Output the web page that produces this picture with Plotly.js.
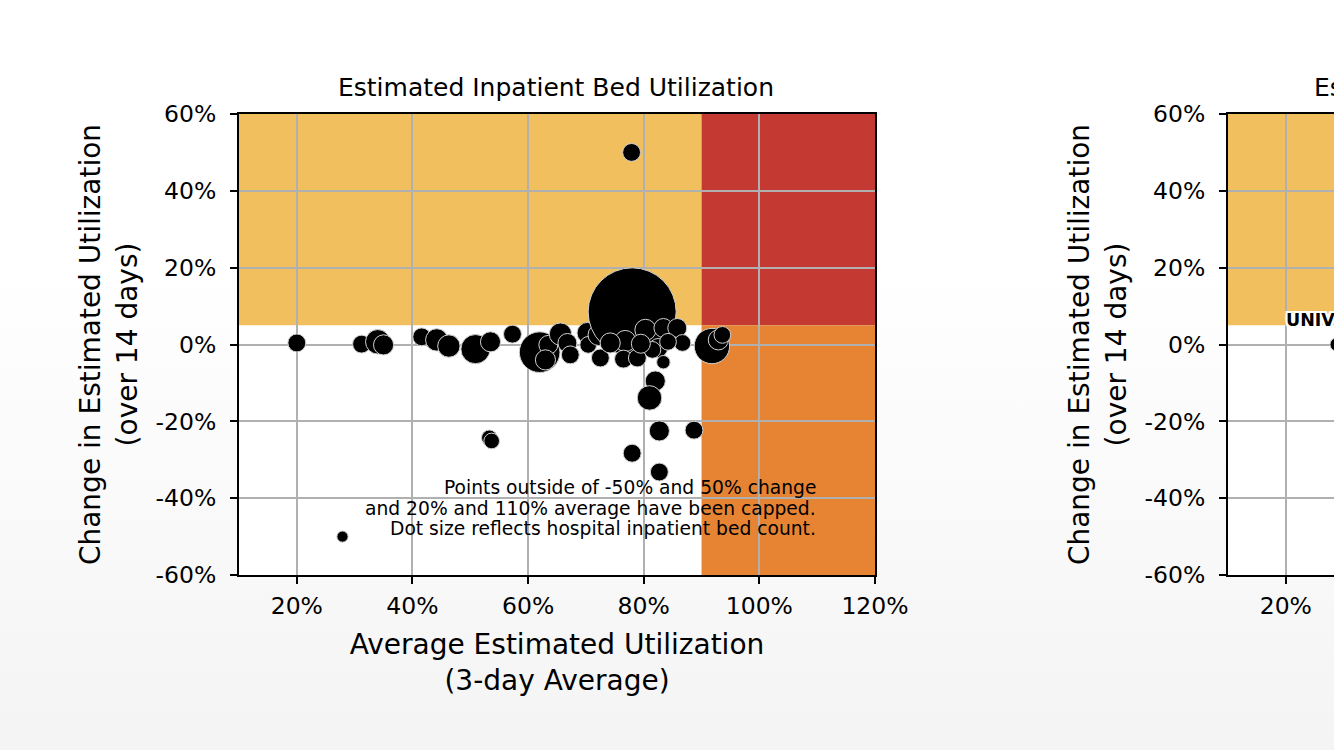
<!DOCTYPE html>
<html>
<head>
<meta charset="utf-8">
<script src="https://cdn.plot.ly/plotly-3.0.1.min.js"></script>
<style>
html, body { margin:0; padding:0; width:1334px; height:750px; overflow:hidden;
  background: linear-gradient(to bottom, #ffffff 0%, #ffffff 35%, #f4f4f4 100%); }
#chart { width:2000px; height:750px; }
</style>
</head>
<body>
<div id="chart"></div>
<script>
// ---- Data: inpatient bed utilization (left panel) ----
const hospX = [20.0, 77.9, 27.9, 31.2, 34.0, 35.0, 41.6, 44.2, 46.3, 50.9, 53.5, 57.3, 53.3, 53.7,
  62.0, 63.5, 63.0, 65.6, 66.8, 67.3, 70.3, 70.4, 72.2, 72.5, 75.1, 78.0, 76.8, 76.5, 78.9, 80.3,
  83.4, 85.8, 82.5, 83.4, 86.7, 84.2, 81.5, 82.0, 81.0, 82.7, 88.7, 78.0, 82.7, 91.8, 92.9, 93.6,
  74.2, 79.5];
const hospY = [0.4, 50, -50, 0.1, 0.7, -0.1, 2.0, 1.2, -0.4, -1.2, 0.7, 2.7, -24.3, -25.1,
  -2.0, -0.1, -4.0, 2.7, 0.4, -2.7, 3.0, -0.1, 2.5, -3.5, 6.1, 8.5, 0.9, -3.8, -3.5, 3.8,
  4.3, 4.3, -0.9, -4.6, 0.4, 0.7, -1.4, -9.5, -13.9, -22.5, -22.3, -28.3, -33.2, -0.4, 1.2, 2.5,
  0.4, 0.2];
const hospBeds = [64, 64, 25, 64, 120, 81, 64, 100, 100, 170, 81, 64, 49, 49,
  330, 72, 81, 100, 72, 64, 90, 56, 90, 64, 72, 1549, 90, 64, 64, 90,
  72, 72, 72, 36, 56, 56, 56, 81, 120, 81, 64, 64, 64, 250, 81, 56,
  81, 72];

// ---- Data: right panel (only the visible part) ----
const icuX = [28.8];
const icuY = [0.0];
const icuBeds = [36];
const icuLabels = ["UNIVERSITY HOSPITAL"];

// ---- Axis ticks ----
const xTickVals = [20, 40, 60, 80, 100, 120];
const xTickText = ["20%", "40%", "60%", "80%", "100%", "120%"];
const yTickVals = [-60, -40, -20, 0, 20, 40, 60];
const yTickText = ["-60%", "-40%", "-20%", "0%", "20%", "40%", "60%"];

// ---- Thresholds for shading ----
const xRange = [10, 120];
const yRange = [-60, 60];
const highUtil = 90;
const riseChange = 5;

const W = 2000, H = 750;
const FONT = "DejaVu Sans";
const px = v => v / W;
const py = v => 1 - v / H;

function axisX(domain, anchor) {
  return {
    domain: domain, anchor: anchor, range: xRange, tickvals: xTickVals, ticktext: xTickText,
    showgrid: true, gridcolor: "#b0b0b0", gridwidth: 2, zeroline: false,
    showline: true, linecolor: "#000", linewidth: 2, mirror: true,
    ticks: "outside", ticklen: 7, tickwidth: 2, tickcolor: "#000", ticklabelstandoff: 2,
    tickfont: {family: FONT, size: 23.5, color: "#000"}, fixedrange: true,
    title: {text: "Average Estimated Utilization<br>(3-day Average)", font: {family: FONT, size: 28, color: "#000"}, standoff: 15}
  };
}
function axisY(domain, anchor) {
  return {
    domain: domain, anchor: anchor, range: yRange, tickvals: yTickVals, ticktext: yTickText,
    showgrid: true, gridcolor: "#b0b0b0", gridwidth: 2, zeroline: false,
    showline: true, linecolor: "#000", linewidth: 2, mirror: true,
    ticks: "outside", ticklen: 7, tickwidth: 2, tickcolor: "#000", ticklabelstandoff: 9,
    tickfont: {family: FONT, size: 23.5, color: "#000"}, fixedrange: true,
    title: {text: "Change in Estimated Utilization<br>(over 14 days)", font: {family: FONT, size: 28, color: "#000"}, standoff: 10}
  };
}

const yDom = [py(575), py(114)];
const x1Dom = [px(239), px(875)];
const x2Dom = [px(1228), px(1864)];

function shading(xr, yr) {
  return [
    {type: "rect", xref: xr, yref: yr, x0: xRange[0], x1: highUtil, y0: riseChange, y1: yRange[1], fillcolor: "#f2bf5f", line: {width: 0}, layer: "below"},
    {type: "rect", xref: xr, yref: yr, x0: highUtil, x1: xRange[1], y0: riseChange, y1: yRange[1], fillcolor: "#c43a33", line: {width: 0}, layer: "below"},
    {type: "rect", xref: xr, yref: yr, x0: highUtil, x1: xRange[1], y0: yRange[0], y1: riseChange, fillcolor: "#e68434", line: {width: 0}, layer: "below"}
  ];
}

const markerStyle = (beds) => ({
  size: beds, sizemode: "area", sizeref: 0.4, color: "#000", opacity: 1,
  line: {color: "#d0d0d0", width: 1}
});

const traces = [
  {type: "scatter", mode: "markers", x: hospX, y: hospY, xaxis: "x", yaxis: "y",
   marker: markerStyle(hospBeds), hoverinfo: "skip", showlegend: false},
  {type: "scatter", mode: "markers", x: icuX, y: icuY, xaxis: "x2", yaxis: "y2",
   marker: markerStyle(icuBeds), hoverinfo: "skip", showlegend: false}
];

const noteFont = {family: FONT, size: 18.7, color: "#000"};
const notes = [
  "Points outside of -50% and 50% change",
  "and 20% and 110% average have been capped.",
  "Dot size reflects hospital inpatient bed count."
];
const noteY = [488, 508, 528];

const annotations = [
  {text: "Estimated Inpatient Bed Utilization", xref: "paper", yref: "paper", x: px(556), y: py(87),
   xanchor: "center", yanchor: "middle", showarrow: false, font: {family: FONT, size: 25, color: "#000"}},
  {text: "Estimated Staffed ICU Bed Utilization", xref: "paper", yref: "paper", x: px(1546), y: py(87),
   xanchor: "center", yanchor: "middle", showarrow: false, font: {family: FONT, size: 25, color: "#000"}},
  ...notes.map((t, i) => ({text: t, xref: "paper", yref: "paper", x: px(818), y: py(noteY[i]),
   xanchor: "right", yanchor: "middle", showarrow: false, font: noteFont})),
  {text: icuLabels[0], xref: "x2", yref: "y2", x: 19.6, y: 6.4, xanchor: "left", yanchor: "middle",
   showarrow: false, font: {family: FONT, size: 17.5, color: "#000", weight: "bold",
   shadow: "-2px -2px 0 #fff, 2px -2px 0 #fff, -2px 2px 0 #fff, 2px 2px 0 #fff, 0 2px 0 #fff, 0 -2px 0 #fff, 2px 0 0 #fff, -2px 0 0 #fff"}}
];

const layout = {
  width: W, height: H,
  margin: {l: 0, r: 0, t: 0, b: 0, pad: 0},
  paper_bgcolor: "rgba(0,0,0,0)", plot_bgcolor: "#ffffff",
  font: {family: FONT, color: "#000"},
  xaxis: axisX(x1Dom, "y"), yaxis: axisY(yDom, "x"),
  xaxis2: axisX(x2Dom, "y2"), yaxis2: axisY(yDom, "x2"),
  shapes: [...shading("x", "y"), ...shading("x2", "y2")],
  annotations: annotations,
  hovermode: false, showlegend: false
};

Plotly.newPlot("chart", traces, layout, {staticPlot: true, responsive: false, displayModeBar: false});
</script>
</body>
</html>
